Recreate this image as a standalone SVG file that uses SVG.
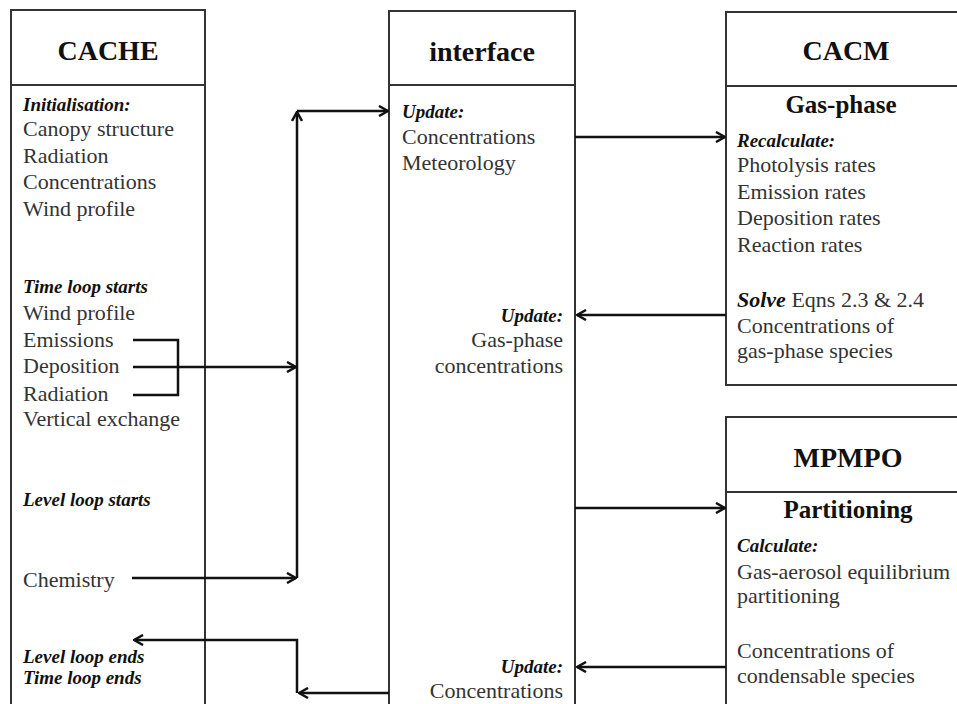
<svg xmlns="http://www.w3.org/2000/svg" width="957" height="704" viewBox="0 0 957 704">
<style>
.box{fill:#fff;stroke:#333;stroke-width:2}
.div{stroke:#333;stroke-width:2}
.h{font-family:"Liberation Serif",serif;font-weight:bold;font-size:28px;fill:#111}
.sh{font-family:"Liberation Serif",serif;font-weight:bold;font-size:25px;fill:#111}
.t{font-family:"Liberation Serif",serif;font-size:22px;fill:#333}
.bi{font-family:"Liberation Serif",serif;font-size:19px;font-weight:bold;font-style:italic;fill:#111}
.c{fill:none;stroke:#111;stroke-width:2.5}
</style>
<defs>
<marker id="arr" viewBox="0 0 12 12" markerWidth="12" markerHeight="12" refX="11" refY="6" orient="auto" markerUnits="userSpaceOnUse">
<path d="M2,1 L11,6 L2,11" fill="none" stroke="#111" stroke-width="2.5"/>
</marker>
</defs>
<rect width="957" height="704" fill="#fff"/>
<g id="cache">
<rect class="box" x="11" y="10" width="194" height="720"/>
<line class="div" x1="11" y1="85" x2="205" y2="85"/>
<text class="h" x="108" y="60" text-anchor="middle">CACHE</text>
<text class="bi" x="23" y="111">Initialisation:</text>
<text class="t" x="23" y="136">Canopy structure</text>
<text class="t" x="23" y="163">Radiation</text>
<text class="t" x="23" y="189">Concentrations</text>
<text class="t" x="23" y="216">Wind profile</text>
<text class="bi" x="23" y="293">Time loop starts</text>
<text class="t" x="23" y="320">Wind profile</text>
<text class="t" x="23" y="347">Emissions</text>
<text class="t" x="23" y="373">Deposition</text>
<text class="t" x="23" y="401">Radiation</text>
<text class="t" x="23" y="426">Vertical exchange</text>
<text class="bi" x="23" y="506">Level loop starts</text>
<text class="t" x="23" y="587">Chemistry</text>
<text class="bi" x="23" y="663">Level loop ends</text>
<text class="bi" x="23" y="684">Time loop ends</text>
</g>
<g id="interface">
<rect class="box" x="389" y="11" width="186" height="720"/>
<line class="div" x1="389" y1="85" x2="575" y2="85"/>
<text class="h" x="482" y="61" text-anchor="middle">interface</text>
<text class="bi" x="402" y="118">Update:</text>
<text class="t" x="402" y="144">Concentrations</text>
<text class="t" x="402" y="170">Meteorology</text>
<text class="bi" x="563" y="322" text-anchor="end">Update:</text>
<text class="t" x="563" y="347" text-anchor="end">Gas-phase</text>
<text class="t" x="563" y="373" text-anchor="end">concentrations</text>
<text class="bi" x="563" y="673" text-anchor="end">Update:</text>
<text class="t" x="563" y="698" text-anchor="end">Concentrations</text>
</g>
<g id="cacm">
<rect class="box" x="726" y="12" width="250" height="373"/>
<line class="div" x1="726" y1="86" x2="976" y2="86"/>
<text class="h" x="846" y="60" text-anchor="middle">CACM</text>
<text class="sh" x="841" y="113" text-anchor="middle">Gas-phase</text>
<text class="bi" x="737" y="147">Recalculate:</text>
<text class="t" x="737" y="172">Photolysis rates</text>
<text class="t" x="737" y="199">Emission rates</text>
<text class="t" x="737" y="225">Deposition rates</text>
<text class="t" x="737" y="252">Reaction rates</text>
<text class="t" x="737" y="307"><tspan font-weight="bold" font-style="italic" fill="#111">Solve</tspan> Eqns 2.3 &amp; 2.4</text>
<text class="t" x="737" y="333">Concentrations of</text>
<text class="t" x="737" y="358">gas-phase species</text>
</g>
<g id="mpmpo">
<rect class="box" x="726" y="417" width="250" height="320"/>
<line class="div" x1="726" y1="492" x2="976" y2="492"/>
<text class="h" x="848" y="467" text-anchor="middle">MPMPO</text>
<text class="sh" x="848" y="518" text-anchor="middle">Partitioning</text>
<text class="bi" x="737" y="552">Calculate:</text>
<text class="t" x="737" y="579">Gas-aerosol equilibrium</text>
<text class="t" x="737" y="603">partitioning</text>
<text class="t" x="737" y="658">Concentrations of</text>
<text class="t" x="737" y="683">condensable species</text>
</g>
<g id="connectors">
<path class="c" d="M133,340 H178 V395 H133"/>
<line class="c" x1="133" y1="367" x2="296" y2="367" marker-end="url(#arr)"/>
<line class="c" x1="132" y1="578" x2="296" y2="578" marker-end="url(#arr)"/>
<line class="c" x1="297" y1="578" x2="297" y2="112" marker-end="url(#arr)"/>
<line class="c" x1="297" y1="111" x2="388" y2="111" marker-end="url(#arr)"/>
<line class="c" x1="389" y1="693" x2="299" y2="693" marker-end="url(#arr)"/>
<path class="c" d="M297,693 V640 H134" marker-end="url(#arr)"/>
<line class="c" x1="575" y1="137" x2="725" y2="137" marker-end="url(#arr)"/>
<line class="c" x1="726" y1="315" x2="577" y2="315" marker-end="url(#arr)"/>
<line class="c" x1="575" y1="508" x2="725" y2="508" marker-end="url(#arr)"/>
<line class="c" x1="726" y1="667" x2="577" y2="667" marker-end="url(#arr)"/>
</g>
</svg>
